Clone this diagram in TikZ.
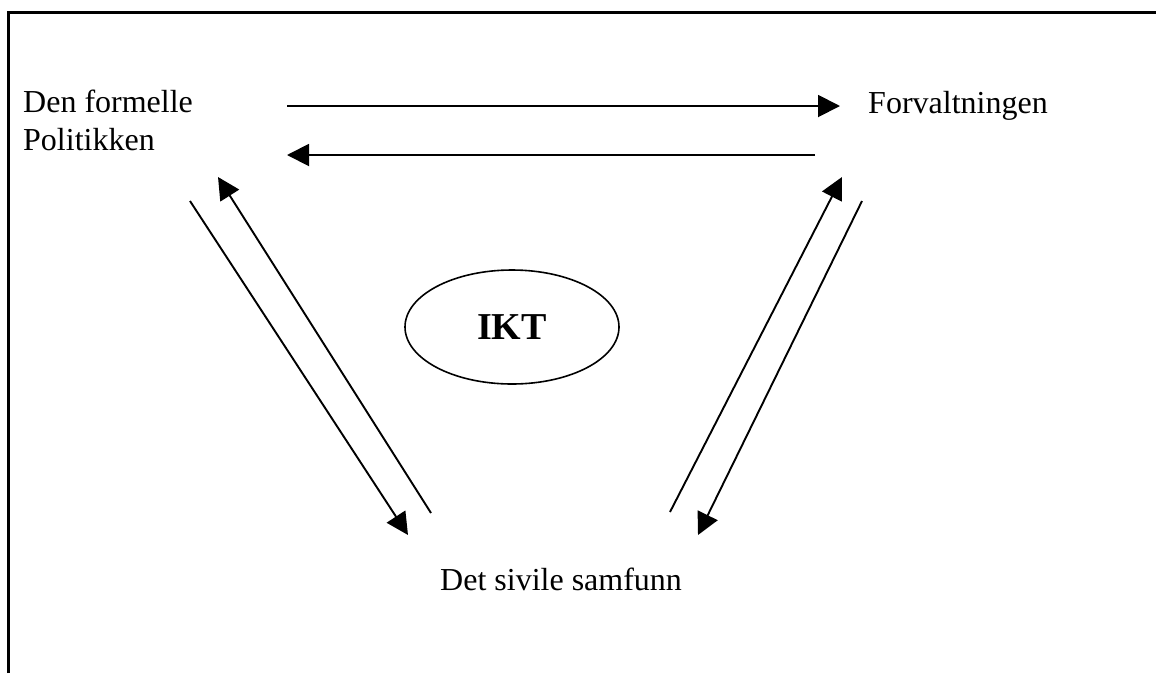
\documentclass[tikz,border=0pt]{standalone}
\usepackage{fontspec}
\setmainfont{Liberation Serif}
\usetikzlibrary{arrows.meta,shapes.geometric}
\begin{document}
\begin{tikzpicture}[x=1pt,y=-1pt,
  lbl/.style={anchor=base west,inner sep=0pt,font=\fontsize{32}{38}\selectfont,align=left},
  conn/.style={line width=1.9pt,-{Triangle[length=22pt,width=22pt]}}]
\useasboundingbox (0,0) rectangle (1156,673);
\draw[line width=3pt] (8.5,673) -- (8.5,12.5) -- (1156,12.5);
\node[lbl] (pol) at (23,150) {Den formelle\\Politikken};
\node[lbl] (forv) at (868,113) {Forvaltningen};
\node[lbl] (sam) at (440,590) {Det sivile samfunn};
\node[draw,line width=1.6pt,ellipse,minimum width=214pt,minimum height=114pt,inner sep=0pt,font=\fontsize{38}{40}\selectfont\bfseries] (ikt) at (512,327) {IKT};
\coordinate (a1s) at (287,106); \coordinate (a1e) at (840,106);
\coordinate (a2s) at (815,155); \coordinate (a2e) at (287,155);
\coordinate (l1s) at (190,201); \coordinate (l1e) at (408,535);
\coordinate (l2s) at (431,513); \coordinate (l2e) at (218,177);
\coordinate (r1s) at (670,512); \coordinate (r1e) at (842,177);
\coordinate (r2s) at (862,201); \coordinate (r2e) at (698,535);
\draw[conn] (a1s) -- (a1e);
\draw[conn] (a2s) -- (a2e);
\draw[conn] (l1s) -- (l1e);
\draw[conn] (l2s) -- (l2e);
\draw[conn] (r1s) -- (r1e);
\draw[conn] (r2s) -- (r2e);
\end{tikzpicture}
\end{document}
